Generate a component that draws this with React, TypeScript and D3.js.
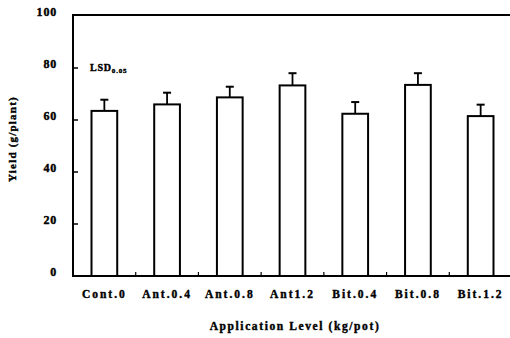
import React from "react";
import * as d3 from "d3";

const categories = ["Cont.0", "Ant.0.4", "Ant.0.8", "Ant1.2", "Bit.0.4", "Bit.0.8", "Bit.1.2"];
const yieldValues = [63.5, 66, 68.7, 73.3, 62.4, 73.5, 61.5];
const errorTops = [67.8, 70.5, 72.8, 78, 66.9, 78, 65.9];
const yTicks = [0, 20, 40, 60, 80, 100];

const W = 510, H = 338;
const left = 73, right = 512, top = 16, bottom = 276;

export default function App() {
  const x = d3.scaleBand<string>().domain(categories).range([left, right]).paddingInner(0.59).paddingOuter(0.295);
  const y = d3.scaleLinear().domain([0, 100]).range([bottom, top]);
  const step = x.step();
  const font = "'Liberation Serif', 'Times New Roman', serif";
  const heavy = { stroke: "#000", strokeWidth: 0.4 };
  return (
    <div style={{ position: "absolute", left: 0, top: 0 }}>
      <svg width={W} height={H} style={{ display: "block", background: "#fff" }}>
        <line x1={left} x2={left} y1={top} y2={bottom} stroke="#000" strokeWidth={2} />
        <line x1={left - 1} x2={W} y1={bottom} y2={bottom} stroke="#000" strokeWidth={2} />
        <line x1={left - 1} x2={W} y1={top - 1} y2={top - 1} stroke="#000" strokeWidth={2} />
        {yTicks.map((t) => (
          <g key={t}>
            {t > 0 && t < 100 && <line x1={left} x2={left + 5} y1={y(t)} y2={y(t)} stroke="#000" strokeWidth={1.5} />}
            <text x={57} y={y(t) - 3} textAnchor="end" dominantBaseline="middle" fontFamily={font} fontWeight="bold" fontSize={12} letterSpacing={0.8} {...heavy}>
              {t}
            </text>
          </g>
        ))}
        {categories.slice(1).map((c, i) => (
          <line key={c} x1={left + step * (i + 1)} x2={left + step * (i + 1)} y1={bottom} y2={bottom - 4} stroke="#000" strokeWidth={1.2} />
        ))}
        {categories.map((c, i) => {
          const bx = x(c)!;
          const cx = bx + x.bandwidth() / 2;
          return (
            <g key={c}>
              <line x1={cx} x2={cx} y1={y(yieldValues[i])} y2={y(errorTops[i])} stroke="#000" strokeWidth={1.8} />
              <line x1={cx - 4} x2={cx + 4} y1={y(errorTops[i])} y2={y(errorTops[i])} stroke="#000" strokeWidth={2} />
              <rect x={bx} y={y(yieldValues[i])} width={x.bandwidth()} height={bottom - y(yieldValues[i])} fill="#fff" stroke="#000" strokeWidth={2} />
              <text x={cx} y={295} textAnchor="middle" dominantBaseline="middle" fontFamily={font} fontWeight="bold" fontSize={11.5} letterSpacing={2} {...heavy}>
                {c}
              </text>
            </g>
          );
        })}
        <text x={90} y={71} fontFamily={font} fontWeight="bold" fontSize={10} letterSpacing={0.8} {...heavy}>
          LSD<tspan fontSize={7} dy={2}>0.05</tspan>
        </text>
        <text x={295} y={327} textAnchor="middle" dominantBaseline="middle" fontFamily={font} fontWeight="bold" fontSize={11.5} letterSpacing={1.6} {...heavy}>
          Application Level (kg/pot)
        </text>
        <text transform={`translate(13,139) rotate(-90)`} textAnchor="middle" dominantBaseline="middle" fontFamily={font} fontWeight="bold" fontSize={11} letterSpacing={1.2} {...heavy}>
          Yield (g/plant)
        </text>
      </svg>
    </div>
  );
}
